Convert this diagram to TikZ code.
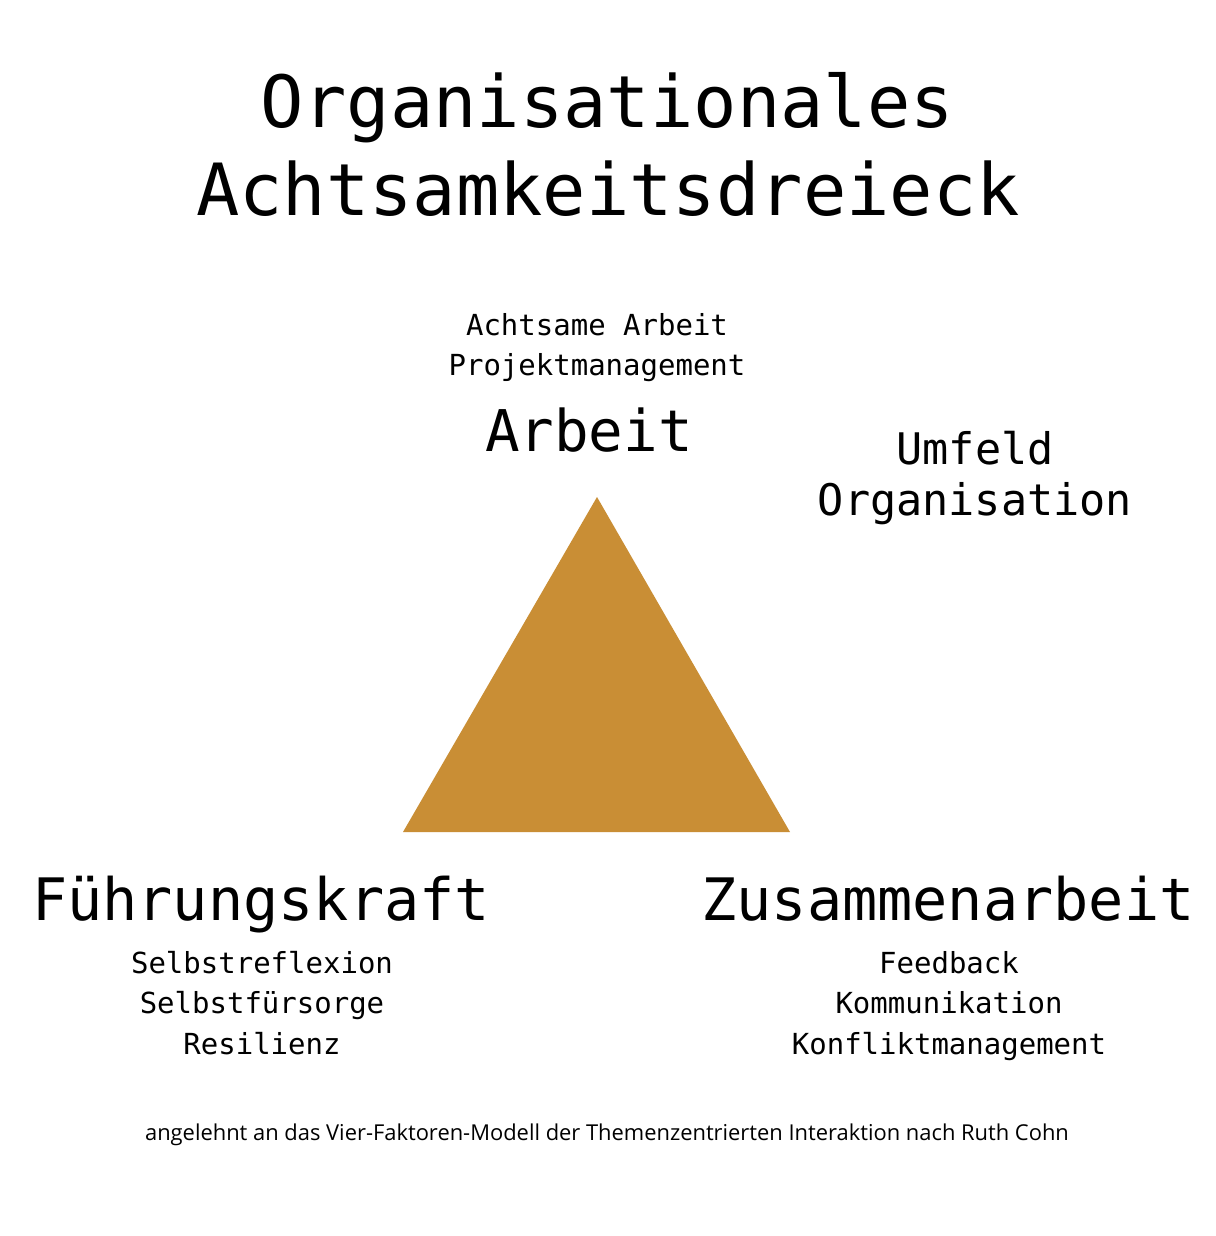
\documentclass[tikz,border=0pt]{standalone}
\usepackage{fontspec}
\setmainfont{Open Sans}
\newfontfamily\monof{DejaVu Sans Mono}
\definecolor{ochre}{HTML}{C98E35}
\begin{document}
\begin{tikzpicture}[x=1pt,y=-1pt,
  lbl/.style={anchor=base,inner sep=0pt,text=black},
  ttl/.style={lbl,font=\monof\fontsize{72}{87}\selectfont},
  big/.style={lbl,font=\monof\fontsize{57.5}{68}\selectfont},
  bigger/.style={lbl,font=\monof\fontsize{58.5}{68}\selectfont},
  mid/.style={lbl,font=\monof\fontsize{43.5}{52}\selectfont},
  sml/.style={lbl,font=\monof\fontsize{29}{40}\selectfont},
  note/.style={lbl,font=\fontsize{21.9}{26}\selectfont}]
\useasboundingbox[fill=white] (0,0) rectangle (1215,1236);
\fill[ochre] (597,497) coordinate (apex) -- (403,832) coordinate (bl) -- (790,832) coordinate (br) -- cycle;
\node[ttl] (t1) at (607,128) {Organisationales};
\node[ttl] (t2) at (608,215) {Achtsamkeitsdreieck};
\node[sml] (a1) at (597,335) {Achtsame Arbeit};
\node[sml] (a2) at (597,375) {Projektmanagement};
\node[big] (arb) at (589,451) {Arbeit};
\node[mid] (u1) at (975,464) {Umfeld};
\node[mid] (u2) at (975,515) {Organisation};
\node[bigger] (fk) at (261,920) {Führungskraft};
\node[bigger] (za) at (948,920) {Zusammenarbeit};
\node[sml] (f1) at (262,973) {Selbstreflexion};
\node[sml] (f2) at (262,1013) {Selbstfürsorge};
\node[sml] (f3) at (262,1054) {Resilienz};
\node[sml] (z1) at (949,973) {Feedback};
\node[sml] (z2) at (949,1013) {Kommunikation};
\node[sml] (z3) at (949,1054) {Konfliktmanagement};
\node[note] (ft) at (607,1140) {angelehnt an das Vier-Faktoren-Modell der Themenzentrierten Interaktion nach Ruth Cohn};
\end{tikzpicture}
\end{document}
